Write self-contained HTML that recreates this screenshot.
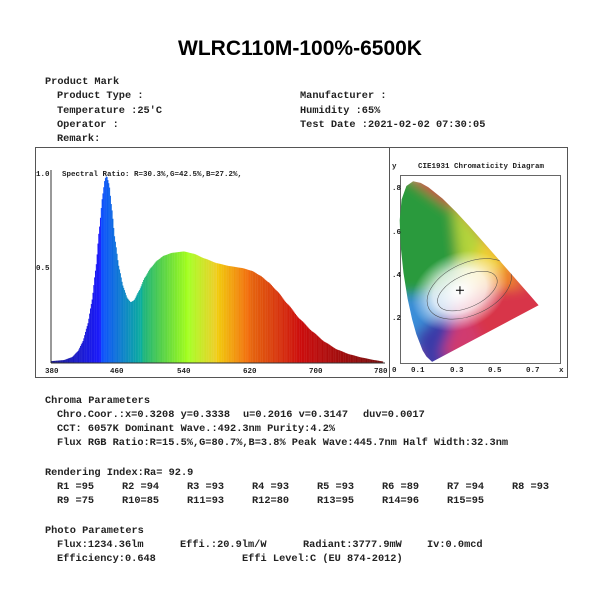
<!DOCTYPE html>
<html><head><meta charset="utf-8"><style>
html,body{margin:0;padding:0;background:#fff;width:600px;height:600px;overflow:hidden}
svg{display:block}
text{font-family:"Liberation Mono",monospace;font-weight:bold;font-size:10.3px;fill:#222}
.t{font-family:"Liberation Sans",sans-serif;font-size:21px;font-weight:bold;fill:#000}
.s{font-size:7.5px}
</style></head><body>
<svg id="s" width="600" height="600" viewBox="0 0 600 600" xmlns="http://www.w3.org/2000/svg">
<defs>
<clipPath id="hs"><polygon id="locus" points=""/></clipPath>
<radialGradient id="wg" cx="0.5" cy="0.5" r="0.5"><stop offset="0" stop-color="#fff" stop-opacity="1"/><stop offset="0.55" stop-color="#fff" stop-opacity="0.8"/><stop offset="1" stop-color="#fff" stop-opacity="0"/></radialGradient>
<filter id="bl"><feGaussianBlur stdDeviation="6"/></filter>
</defs>
<text class="t" x="300" y="55" text-anchor="middle">WLRC110M-100%-6500K</text>
<text x="45" y="84">Product Mark</text>
<text x="57" y="98">Product Type :</text>
<text x="57" y="113">Temperature :25'C</text>
<text x="57" y="127">Operator :</text>
<text x="57" y="141">Remark:</text>
<text x="300" y="98">Manufacturer :</text>
<text x="300" y="113">Humidity :65%</text>
<text x="300" y="127">Test Date :2021-02-02 07:30:05</text>
<rect x="35.5" y="147.5" width="532" height="230" fill="none" stroke="#555"/>
<line x1="389.5" y1="147" x2="389.5" y2="377" stroke="#555"/>
<g id="spec"></g>
<line x1="51" y1="170" x2="51" y2="363" stroke="#333"/>
<line x1="51" y1="363" x2="385" y2="363" stroke="#333"/>
<text class="s" x="36" y="176">1.0</text>
<text class="s" x="36" y="270">0.5</text>
<text class="s" x="45" y="373">380</text>
<text class="s" x="110" y="373">460</text>
<text class="s" x="177" y="373">540</text>
<text class="s" x="243" y="373">620</text>
<text class="s" x="309" y="373">700</text>
<text class="s" x="374" y="373">780</text>
<text class="s" x="62" y="176">Spectral Ratio:  R=30.3%,G=42.5%,B=27.2%,</text>
<text class="s" x="392" y="168">y</text>
<text class="s" x="418" y="168">CIE1931 Chromaticity Diagram</text>
<rect x="400.5" y="175.5" width="160" height="188" fill="none" stroke="#666"/>
<g id="cie"></g>
<text class="s" x="392" y="190">.8</text>
<text class="s" x="392" y="234">.6</text>
<text class="s" x="392" y="277">.4</text>
<text class="s" x="392" y="320">.2</text>
<text class="s" x="392" y="372">0</text>
<text class="s" x="411" y="372">0.1</text>
<text class="s" x="450" y="372">0.3</text>
<text class="s" x="488" y="372">0.5</text>
<text class="s" x="526" y="372">0.7</text>
<text class="s" x="559" y="372">x</text>
<text x="45" y="403">Chroma Parameters</text>
<text x="57" y="417">Chro.Coor.:x=0.3208  y=0.3338</text>
<text x="243" y="417">u=0.2016  v=0.3147</text>
<text x="363" y="417">duv=0.0017</text>
<text x="57" y="431">CCT: 6057K   Dominant Wave.:492.3nm   Purity:4.2%</text>
<text x="57" y="445">Flux RGB Ratio:R=15.5%,G=80.7%,B=3.8%  Peak Wave:445.7nm   Half Width:32.3nm</text>
<text x="45" y="475">Rendering Index:Ra= 92.9</text>
<text x="57" y="489">R1 =95</text><text x="122" y="489">R2 =94</text><text x="187" y="489">R3 =93</text><text x="252" y="489">R4 =93</text><text x="317" y="489">R5 =93</text><text x="382" y="489">R6 =89</text><text x="447" y="489">R7 =94</text><text x="512" y="489">R8 =93</text>
<text x="57" y="503">R9 =75</text><text x="122" y="503">R10=85</text><text x="187" y="503">R11=93</text><text x="252" y="503">R12=80</text><text x="317" y="503">R13=95</text><text x="382" y="503">R14=96</text><text x="447" y="503">R15=95</text>
<text x="45" y="533">Photo Parameters</text>
<text x="57" y="547">Flux:1234.36lm</text><text x="180" y="547">Effi.:20.9lm/W</text><text x="303" y="547">Radiant:3777.9mW</text><text x="427" y="547">Iv:0.0mcd</text>
<text x="57" y="561">Efficiency:0.648</text><text x="242" y="561">Effi Level:C (EU 874-2012)</text>
</svg>
<script>
var NS="http://www.w3.org/2000/svg";
function el(t,a,p){var e=document.createElementNS(NS,t);for(var k in a)e.setAttribute(k,a[k]);p.appendChild(e);return e;}
var pts=[[380,0.01],[395,0.015],[405,0.03],[412,0.06],[418,0.11],[424,0.2],[429,0.32],[434,0.5],[438,0.7],[442,0.88],[445,0.97],[447,0.985],[450,0.94],[453,0.82],[457,0.65],[462,0.5],[467,0.4],[472,0.34],[476,0.32],[480,0.33],[486,0.38],[493,0.45],[500,0.5],[508,0.54],[516,0.565],[526,0.58],[540,0.587],[552,0.575],[565,0.55],[580,0.525],[595,0.51],[610,0.5],[622,0.485],[632,0.46],[642,0.425],[652,0.38],[665,0.31],[680,0.23],[695,0.165],[710,0.11],[725,0.07],[740,0.045],[755,0.028],[770,0.015],[780,0.008]];
function f(w){for(var i=1;i<pts.length;i++){if(w<=pts[i][0]){var a=pts[i-1],b=pts[i],t=(w-a[0])/(b[0]-a[0]);t=t*t*(3-2*t)*0.3+t*0.7;return a[1]+t*(b[1]-a[1]);}}return 0;}
function col(w){var r,g,b;
if(w<440){r=0.1;g=0.1;b=0.55+0.45*(w-380)/60;}
else if(w<490){r=0.05;g=0.3+0.4*(w-440)/50;b=1-0.4*(w-440)/50;}
else if(w<510){r=0.1+0.2*(w-490)/20;g=0.7+0.1*(w-490)/20;b=0.5-0.2*(w-490)/20;}
else if(w<545){r=0.3+0.35*(w-510)/35;g=0.8+0.2*(w-510)/35;b=0.3-0.2*(w-510)/35;}
else if(w<580){r=0.65+0.3*(w-545)/35;g=1-0.2*(w-545)/35;b=0.15;}
else if(w<620){r=0.95;g=0.8-0.4*(w-580)/40;b=0.05;}
else if(w<680){r=0.9-0.1*(w-620)/60;g=0.4-0.35*(w-620)/60;b=0.05;}
else {r=0.8-0.35*(w-680)/100;g=0.05;b=0.05;}
return "rgb("+Math.round(r*255)+","+Math.round(g*255)+","+Math.round(b*255)+")";}
var sp=document.getElementById("spec");
for(var w=380;w<780;w+=1){var x=51+(w-380)*0.83,h=f(w+0.5)*190;el("rect",{x:x.toFixed(2),y:(363-h).toFixed(2),width:1.0,height:h.toFixed(2),fill:col(w)},sp);}
var L=[[0.1741,0.005],[0.1440,0.0297],[0.1241,0.0578],[0.0913,0.1327],[0.0687,0.2007],[0.0454,0.295],[0.0235,0.4127],[0.0082,0.5384],[0.0039,0.6548],[0.0139,0.7502],[0.0389,0.812],[0.0743,0.8338],[0.1142,0.8262],[0.1547,0.8059],[0.2296,0.7543],[0.3016,0.6923],[0.3731,0.6245],[0.4441,0.5547],[0.5125,0.4866],[0.5752,0.4242],[0.627,0.3725],[0.6915,0.3083],[0.7347,0.2653]];
function X(x){return 399+x*190;}function Y(y){return 363-y*218;}
document.getElementById("locus").setAttribute("points",L.map(function(p){return X(p[0]).toFixed(1)+","+Y(p[1]).toFixed(1)}).join(" "));
var c=document.getElementById("cie");
var g=el("g",{"clip-path":"url(#hs)"},c);
var g2=el("g",{filter:"url(#bl)"},g);
el("rect",{x:395,y:175,width:170,height:190,fill:"#d8354a"},g2);
el("polygon",{points:X(-0.1)+","+Y(0.95)+" "+X(0.42)+","+Y(0.62)+" "+X(0.33)+","+Y(0.33)+" "+X(-0.1)+","+Y(0.3),fill:"#2c9a3c"},g2);
el("polygon",{points:X(0.28)+","+Y(0.75)+" "+X(0.52)+","+Y(0.5)+" "+X(0.33)+","+Y(0.33),fill:"#b4d43a"},g2);
el("polygon",{points:X(0.45)+","+Y(0.58)+" "+X(0.6)+","+Y(0.44)+" "+X(0.33)+","+Y(0.33),fill:"#f0d030"},g2);
el("polygon",{points:X(0.56)+","+Y(0.45)+" "+X(0.66)+","+Y(0.35)+" "+X(0.33)+","+Y(0.33),fill:"#f08a25"},g2);
el("polygon",{points:X(-0.1)+","+Y(0.3)+" "+X(0.33)+","+Y(0.33)+" "+X(0.15)+","+Y(0.05)+" "+X(-0.1)+","+Y(0.05),fill:"#3a8ed8"},g2);
el("polygon",{points:X(0.08)+","+Y(0.12)+" "+X(0.3)+","+Y(0.3)+" "+X(0.28)+","+Y(-0.05)+" "+X(0.12)+","+Y(-0.05),fill:"#3a3aa8"},g2);
el("polygon",{points:X(0.22)+","+Y(0.02)+" "+X(0.33)+","+Y(0.3)+" "+X(0.45)+","+Y(0.08),fill:"#d03a70"},g2);
el("ellipse",{cx:X(0.32),cy:Y(0.33),rx:50,ry:38,fill:"url(#wg)",transform:"rotate(-25 "+X(0.32)+" "+Y(0.33)+")"},g);
el("ellipse",{cx:X(0.36),cy:Y(0.33),rx:32,ry:16,fill:"none",stroke:"#444","stroke-width":0.5,transform:"rotate(-25 "+X(0.36)+" "+Y(0.33)+")"},g);
el("ellipse",{cx:X(0.37),cy:Y(0.34),rx:45,ry:26,fill:"none",stroke:"#444","stroke-width":0.5,transform:"rotate(-25 "+X(0.37)+" "+Y(0.34)+")"},g);
var cx=X(0.3208),cy=Y(0.3338);
el("path",{d:"M"+(cx-4)+" "+cy+"h8M"+cx+" "+(cy-4)+"v8",stroke:"#000","stroke-width":1},c);
</script>
</body></html>
